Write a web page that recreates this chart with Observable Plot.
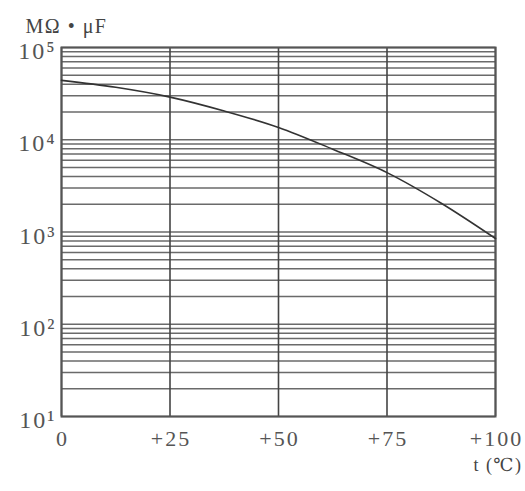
<!DOCTYPE html>
<html>
<head>
<meta charset="utf-8">
<script src="https://cdn.jsdelivr.net/npm/d3@7"></script>
<script src="https://cdn.jsdelivr.net/npm/@observablehq/plot@0.6"></script>
<style>
  html, body { margin: 0; padding: 0; background: #fff; }
  #chart svg { display: block; }
  #chart g[aria-label="x-axis tick label"] text { letter-spacing: 2px; }
  #chart g[aria-label="y-axis tick label"] text { letter-spacing: 2px; }
  #chart g.unit text { letter-spacing: 1.5px; }
</style>
</head>
<body>
<div id="chart"></div>
<script>
// Data
const temperature = [0, 12.5, 25, 37.5, 50, 62.5, 75, 87.5, 100];
const resistance  = [44000, 37000, 29000, 20500, 13600, 7900, 4400, 2050, 850];

// Axis ticks
const xTicks = [0, 25, 50, 75, 100];
const xTickLabels = ["0", "+25", "+50", "+75", "+100"];
const decades = [10, 100, 1000, 10000, 100000];
const decadeLabels = ["10¹", "10²", "10³", "10⁴", "10⁵"];
const mantissas = [1, 2, 3, 4, 5, 6, 7, 8, 9];

const yUnit = "MΩ • μF";
const xUnit = "t (℃)";

const gridY = [];
for (const d of decades.slice(0, -1)) for (const m of mantissas) gridY.push(d * m);
gridY.push(decades[decades.length - 1]);

const series = temperature.map((t, i) => ({t, r: resistance[i]}));
const font = "'Liberation Serif', 'DejaVu Serif', serif";

const chart = Plot.plot({
  width: 525,
  height: 491,
  marginLeft: 61,
  marginRight: 30,
  marginTop: 47,
  marginBottom: 75,
  style: {fontFamily: font, background: "#fff", color: "#333"},
  x: {domain: [0, 100]},
  y: {type: "log", domain: [10, 100000]},
  marks: [
    Plot.ruleY(gridY, {stroke: "#6a6a6a", strokeWidth: 1.6}),
    Plot.ruleX(xTicks, {stroke: "#444", strokeWidth: 1.6}),
    Plot.frame({stroke: "#555", strokeWidth: 2}),
    Plot.line(series, {x: "t", y: "r", curve: "monotone-x", stroke: "#333", strokeWidth: 1.6}),
    Plot.axisX({
      ticks: xTicks,
      tickFormat: d => xTickLabels[xTicks.indexOf(d)],
      tickSize: 0,
      tickPadding: 14,
      fontSize: 22,
      fill: "#555",
      dx: 1,
      label: null
    }),
    Plot.axisY({
      ticks: decades,
      tickFormat: d => decadeLabels[decades.indexOf(d)],
      tickSize: 0,
      tickPadding: 5,
      fontSize: 24,
      fill: "#555",
      dy: 4,
      label: null
    }),
    Plot.text([yUnit], {
      frameAnchor: "top-left", text: d => d, dx: -36, dy: -29,
      textAnchor: "start", fontSize: 20, fill: "#444", className: "unit"
    }),
    Plot.text([xUnit], {
      frameAnchor: "bottom-right", text: d => d, dx: 27, dy: 54,
      textAnchor: "end", fontSize: 18, fill: "#444", className: "unit"
    })
  ]
});
document.getElementById("chart").append(chart);
</script>
</body>
</html>
